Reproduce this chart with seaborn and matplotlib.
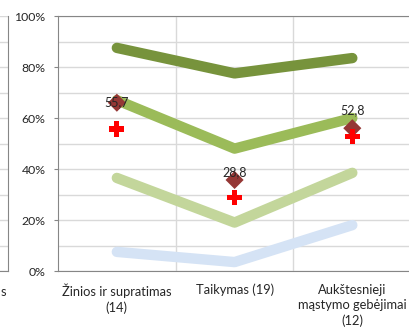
import numpy as np
import pandas as pd
import matplotlib
matplotlib.use("Agg")
import matplotlib.pyplot as plt
import seaborn as sns

# categories on the x axis
categories = ["Žinios ir supratimas\n(14)", "Taikymas (19)", "Aukštesnieji\nmąstymo gebėjimai\n(12)"]

# band lines (share of pupils, %)
band_top = [87.5, 77.5, 83.5]
band_upper = [67.0, 48.0, 60.0]
band_lower = [36.5, 19.0, 38.5]
band_bottom = [7.5, 3.5, 18.0]

# markers
diamond_vals = [66.0, 35.7, 56.0]
cross_vals = [55.7, 28.8, 52.8]
label_vals = ["55,7", "28,8", "52,8"]
label_pos = [66.3, 38.8, 63.0]

line_colors = ["#77933C", "#9BBB59", "#C3D69B", "#D5E3F5"]

sns.set_style("white")
plt.rcParams['font.family'] = ['Lato', 'DejaVu Sans']

x = np.arange(len(categories))
df = pd.DataFrame({
    "x": np.tile(x, 4),
    "val": band_top + band_upper + band_lower + band_bottom,
    "band": np.repeat(["top", "upper", "lower", "bottom"], len(x)),
})

fig = plt.figure(figsize=(4.09, 3.32), dpi=100)
ax_l = fig.add_axes([-0.6, 0.1837, 0.6196, 0.7681])
ax = fig.add_axes([0.1418, 0.1837, 0.8635, 0.7681])

grid_c = "#D9D9D9"
spine_c = "#868686"

# partially visible neighbouring panel
ax_l.set_ylim(0, 100)
ax_l.set_yticks(np.arange(0, 101, 10))
ax_l.set_xticks([])
ax_l.tick_params(left=False, labelleft=False)
ax_l.grid(axis="y", color=grid_c, lw=1)
for s in ["left", "top"]:
    ax_l.spines[s].set_visible(False)
ax_l.spines["right"].set_color(spine_c)
ax_l.spines["bottom"].set_color(spine_c)

sns.lineplot(data=df, x="x", y="val", hue="band", palette=line_colors,
             lw=7.5, legend=False, ax=ax, solid_capstyle="round", zorder=3)
sns.scatterplot(x=x, y=diamond_vals, marker="D", s=85, color="#953735",
                edgecolor="none", ax=ax, zorder=4)
sns.scatterplot(x=x, y=cross_vals, marker="P", s=120, color="#FF0000",
                edgecolor="none", ax=ax, zorder=4)
for xi, yv, t in zip(x, label_pos, label_vals):
    ax.text(xi, yv, t, ha="center", va="center", fontsize=9, zorder=5)

ax.set_xlim(-0.5, 2.5)
ax.set_ylim(0, 100)
ax.set_yticks(np.arange(0, 101, 20))
ax.set_yticks(np.arange(0, 101, 10), minor=True)
ax.yaxis.set_major_formatter(matplotlib.ticker.FuncFormatter(lambda v, p: f"{int(v)}%"))
ax.set_xticks(x)
ax.set_xticklabels(categories, linespacing=1.35)
ax.set_xticks([0.5, 1.5], minor=True)
ax.grid(which="both", axis="y", color=grid_c, lw=1)
ax.grid(which="minor", axis="x", color=grid_c, lw=1)
ax.set_axisbelow(True)
ax.tick_params(axis="x", which="major", length=0, labelsize=9.3, pad=9)
ax.tick_params(axis="x", which="minor", length=4, color=spine_c, direction="out")
ax.tick_params(axis="y", which="major", length=3, color=spine_c, labelsize=8.8, pad=6, left=True)
ax.tick_params(axis="y", which="minor", length=0)
ax.set_xlabel("")
ax.set_ylabel("")
ax.spines["right"].set_visible(False)
for s in ["left", "bottom", "top"]:
    ax.spines[s].set_color(spine_c)

fig.text(6 / 409, 1 - 292 / 332, "s", ha="right", va="center", fontsize=9.3)

fig.savefig("out.png", dpi=100)
